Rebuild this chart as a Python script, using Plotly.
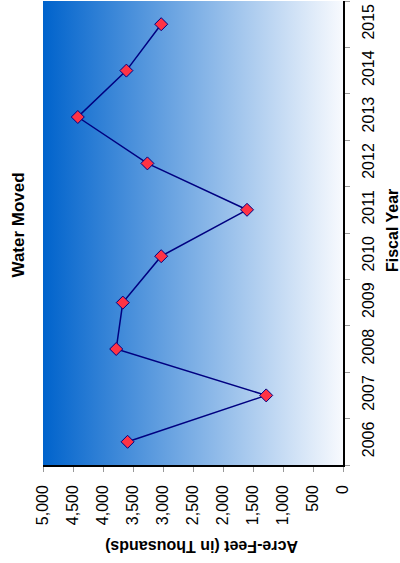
import base64
import plotly.graph_objects as go

years = [2006, 2007, 2008, 2009, 2010, 2011, 2012, 2013, 2014, 2015]
acre_feet = [3590, 1280, 3780, 3670, 3030, 1600, 3260, 4420, 3610, 3030]
value_ticks = [0, 500, 1000, 1500, 2000, 2500, 3000, 3500, 4000, 4500, 5000]
value_tick_labels = ["0", "500", "1,000", "1,500", "2,000", "2,500", "3,000",
                     "3,500", "4,000", "4,500", "5,000"]

FONT = "Liberation Sans, Arial, sans-serif"

svg = ('<svg xmlns="http://www.w3.org/2000/svg" width="300" height="100" '
       'preserveAspectRatio="none"><defs><linearGradient id="g" x1="0" y1="0" x2="1" y2="0">'
       '<stop offset="0" stop-color="#0063CC"/><stop offset="1" stop-color="#F8FAFE"/>'
       '</linearGradient></defs><rect width="300" height="100" fill="url(#g)"/></svg>')
svg_uri = "data:image/svg+xml;base64," + base64.b64encode(svg.encode()).decode()

fig = go.Figure()
fig.add_trace(go.Scatter(
    x=acre_feet, y=years, mode="lines+markers",
    line=dict(color="#000080", width=1.5),
    marker=dict(symbol="diamond", size=10, color="#FF3344",
                line=dict(color="#000080", width=1)),
    hoverinfo="x+y", showlegend=False,
))

L, R, T, B = 43, 57, 1, 98
fig.update_layout(
    width=400, height=563,
    margin=dict(l=L, r=R, t=T, b=B, autoexpand=False),
    paper_bgcolor="white", plot_bgcolor="rgba(0,0,0,0)",
    font=dict(family=FONT, color="black"),
    images=[dict(source=svg_uri, xref="x domain", yref="y domain",
                 x=0, y=1, sizex=1, sizey=1, xanchor="left", yanchor="top",
                 sizing="stretch", layer="below")],
    xaxis=dict(range=[5000, 0], tickvals=value_ticks, ticktext=value_tick_labels,
               tickangle=-90, ticks="outside", ticklen=5, tickcolor="#999999",
               ticklabelstandoff=7, automargin=False,
               showgrid=False, zeroline=False, showline=True, linecolor="black",
               linewidth=1.5, tickfont=dict(size=16, family=FONT), fixedrange=True),
    yaxis=dict(range=[2005.5, 2015.5], side="right", tickvals=years,
               ticktext=[str(y) for y in years], tickangle=-90, ticks="",
               ticklabelstandoff=10, automargin=False,
               minor=dict(tickvals=[y - 0.5 for y in years] + [2015.5], ticks="outside",
                          ticklen=5, tickcolor="#999999", showgrid=False),
               showgrid=False, zeroline=False, showline=True, linecolor="black",
               linewidth=1.5, tickfont=dict(size=16, family=FONT), fixedrange=True),
    annotations=[
        dict(text="<b>Water Moved</b>", textangle=-90, x=17.5, y=225,
             showarrow=False, font=dict(size=17, family=FONT)),
        dict(text="<b>Fiscal Year</b>", textangle=-90, x=392, y=231,
             showarrow=False, font=dict(size=16, family=FONT)),
        dict(text="<b>Acre-Feet (in Thousands)</b>", textangle=180, x=201, y=547,
             showarrow=False, font=dict(size=16, family=FONT)),
    ],
)

# convert pixel positions for annotations to paper coords
pw, ph = 400 - L - R, 563 - T - B
for a in fig.layout.annotations:
    px, py = a.x, a.y
    a.xref = "paper"
    a.yref = "paper"
    a.x = (px - L) / pw
    a.y = 1 - (py - T) / ph
    a.xanchor = "center"
    a.yanchor = "middle"

fig.write_html("out.html", config={"displayModeBar": False},
               post_script="document.body.style.margin='0';")
